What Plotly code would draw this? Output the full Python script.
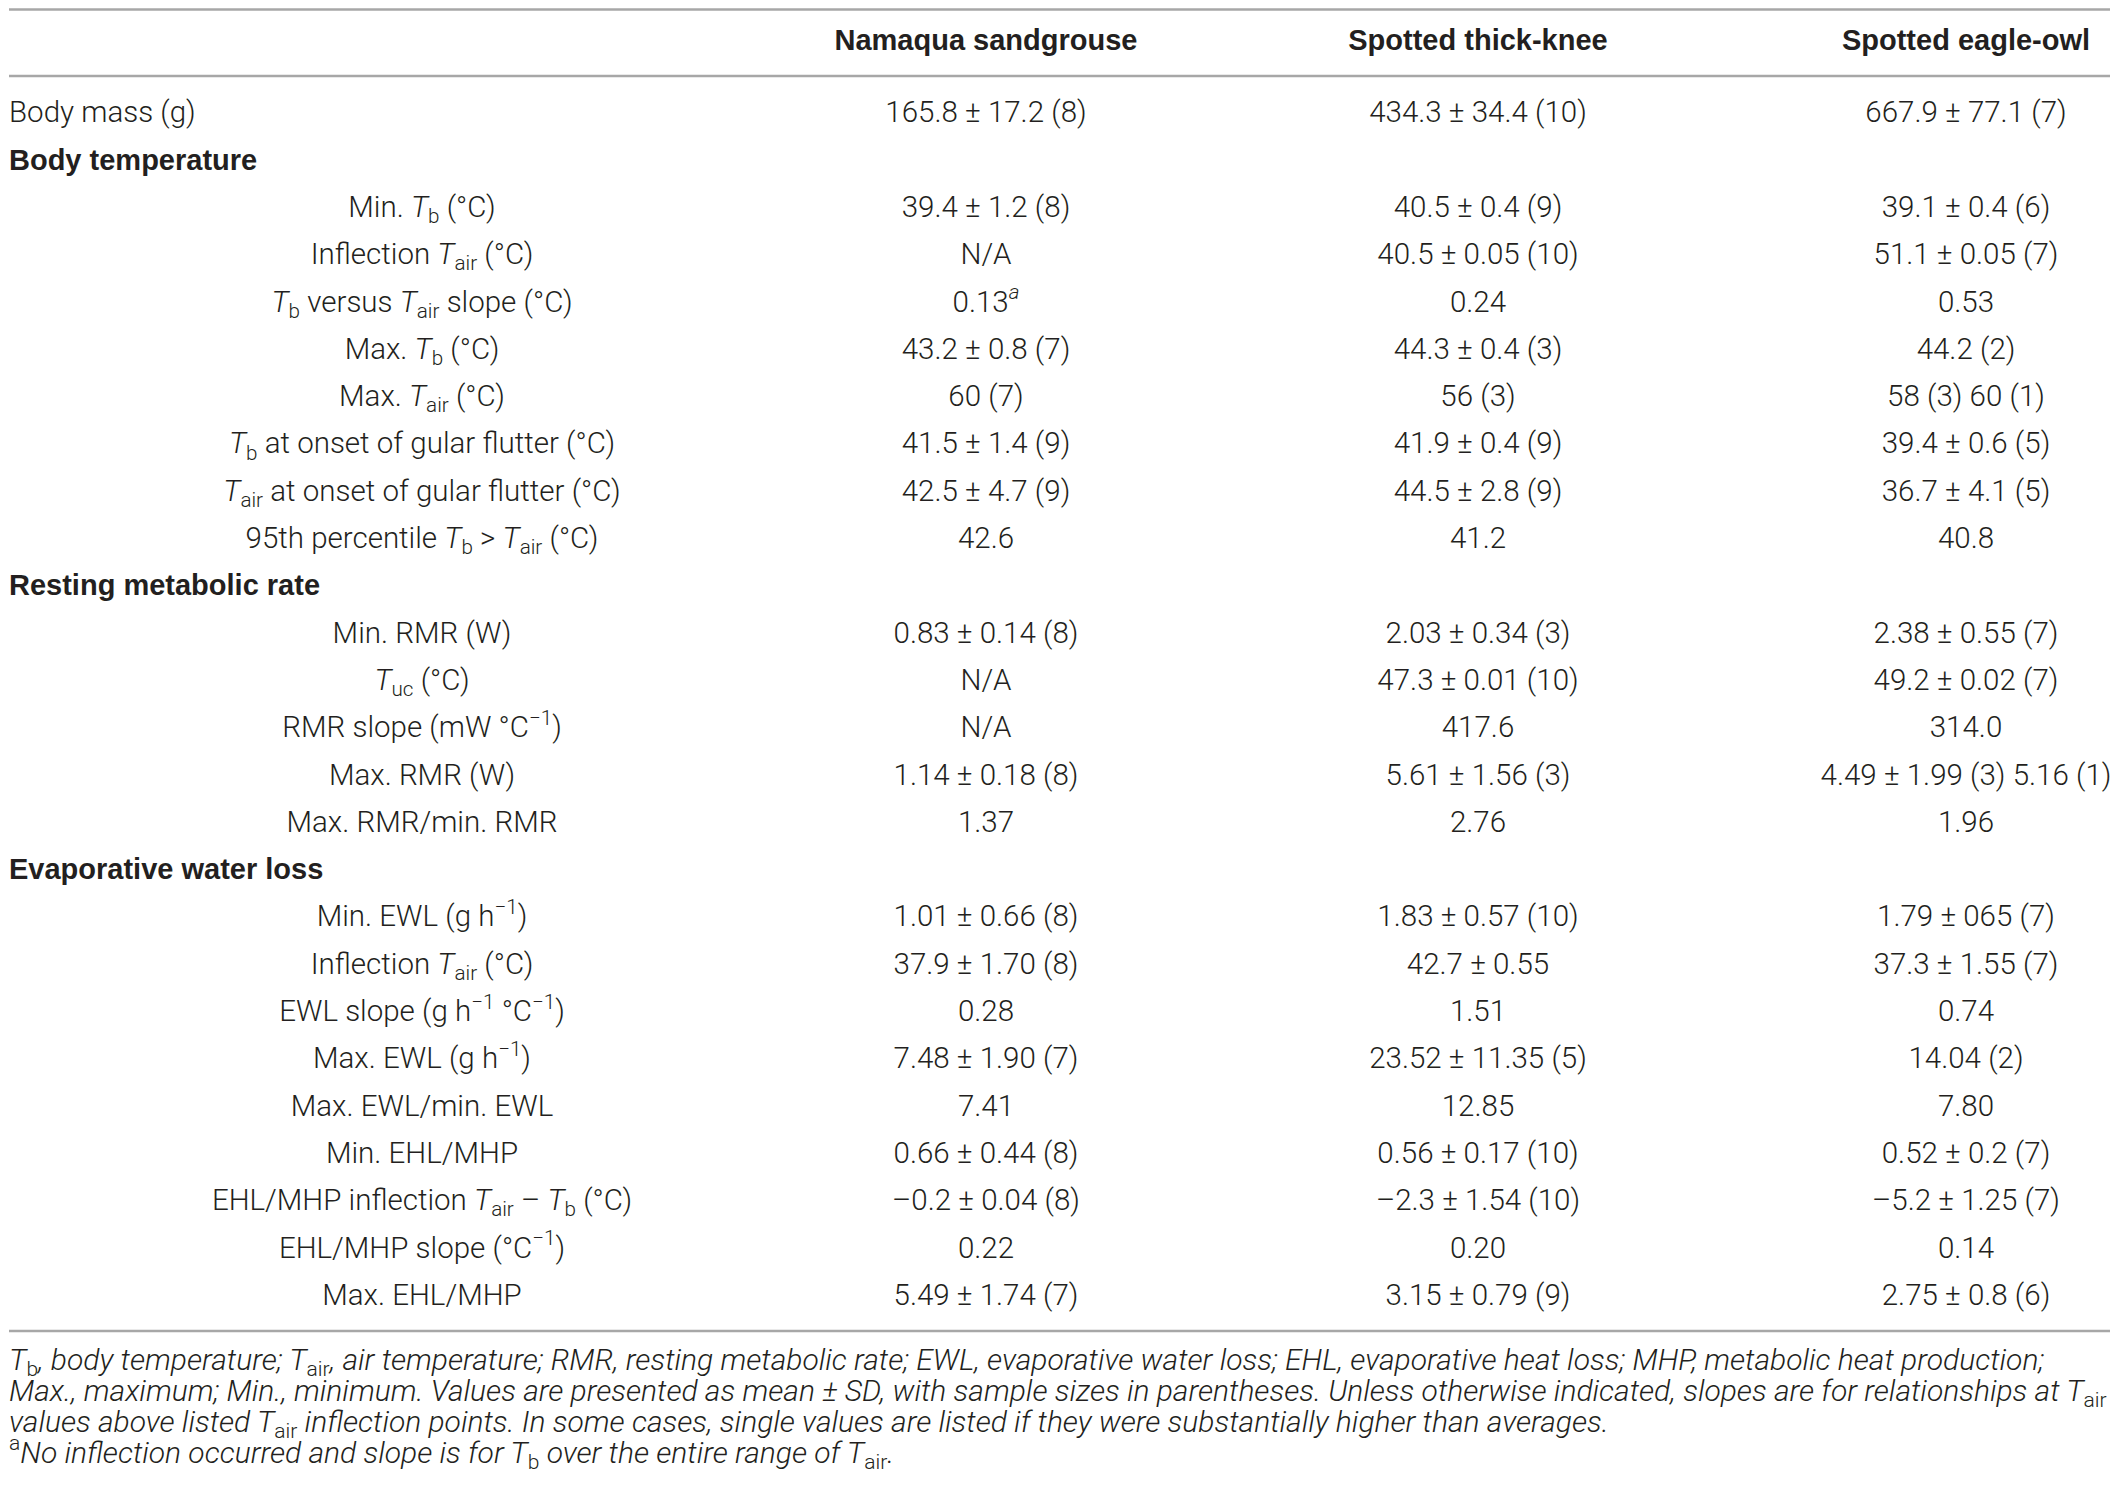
import plotly.graph_objs as go

# table content
species = ["Namaqua sandgrouse", "Spotted thick-knee", "Spotted eagle-owl"]

row_labels = [
    "Body mass (g)",
    "Body temperature",
    "Min. <i>T</i><sub>b</sub> (°C)",
    "Inflection <i>T</i><sub>air</sub> (°C)",
    "<i>T</i><sub>b</sub> versus <i>T</i><sub>air</sub> slope (°C)",
    "Max. <i>T</i><sub>b</sub> (°C)",
    "Max. <i>T</i><sub>air</sub> (°C)",
    "<i>T</i><sub>b</sub> at onset of gular flutter (°C)",
    "<i>T</i><sub>air</sub> at onset of gular flutter (°C)",
    "95th percentile <i>T</i><sub>b</sub> > <i>T</i><sub>air</sub> (°C)",
    "Resting metabolic rate",
    "Min. RMR (W)",
    "<i>T</i><sub>uc</sub> (°C)",
    "RMR slope (mW °C<sup>−1</sup>)",
    "Max. RMR (W)",
    "Max. RMR/min. RMR",
    "Evaporative water loss",
    "Min. EWL (g h<sup>−1</sup>)",
    "Inflection <i>T</i><sub>air</sub> (°C)",
    "EWL slope (g h<sup>−1</sup> °C<sup>−1</sup>)",
    "Max. EWL (g h<sup>−1</sup>)",
    "Max. EWL/min. EWL",
    "Min. EHL/MHP",
    "EHL/MHP inflection <i>T</i><sub>air</sub> – <i>T</i><sub>b</sub> (°C)",
    "EHL/MHP slope (°C<sup>−1</sup>)",
    "Max. EHL/MHP",
]

# 'flush' = left, plain; 'head' = left, bold; 'sub' = centred in first column
row_kind = ["flush", "head"] + ["sub"] * 8 + ["head"] + ["sub"] * 5 + ["head"] + ["sub"] * 9

sandgrouse = [
    "165.8 ± 17.2 (8)", "", "39.4 ± 1.2 (8)", "N/A", "0.13<sup><i>a</i></sup>",
    "43.2 ± 0.8 (7)", "60 (7)", "41.5 ± 1.4 (9)", "42.5 ± 4.7 (9)", "42.6",
    "", "0.83 ± 0.14 (8)", "N/A", "N/A", "1.14 ± 0.18 (8)", "1.37",
    "", "1.01 ± 0.66 (8)", "37.9 ± 1.70 (8)", "0.28", "7.48 ± 1.90 (7)", "7.41",
    "0.66 ± 0.44 (8)", "–0.2 ± 0.04 (8)", "0.22", "5.49 ± 1.74 (7)",
]
thick_knee = [
    "434.3 ± 34.4 (10)", "", "40.5 ± 0.4 (9)", "40.5 ± 0.05 (10)", "0.24",
    "44.3 ± 0.4 (3)", "56 (3)", "41.9 ± 0.4 (9)", "44.5 ± 2.8 (9)", "41.2",
    "", "2.03 ± 0.34 (3)", "47.3 ± 0.01 (10)", "417.6", "5.61 ± 1.56 (3)", "2.76",
    "", "1.83 ± 0.57 (10)", "42.7 ± 0.55", "1.51", "23.52 ± 11.35 (5)", "12.85",
    "0.56 ± 0.17 (10)", "–2.3 ± 1.54 (10)", "0.20", "3.15 ± 0.79 (9)",
]
eagle_owl = [
    "667.9 ± 77.1 (7)", "", "39.1 ± 0.4 (6)", "51.1 ± 0.05 (7)", "0.53",
    "44.2 (2)", "58 (3) 60 (1)", "39.4 ± 0.6 (5)", "36.7 ± 4.1 (5)", "40.8",
    "", "2.38 ± 0.55 (7)", "49.2 ± 0.02 (7)", "314.0", "4.49 ± 1.99 (3) 5.16 (1)", "1.96",
    "", "1.79 ± 065 (7)", "37.3 ± 1.55 (7)", "0.74", "14.04 (2)", "7.80",
    "0.52 ± 0.2 (7)", "–5.2 ± 1.25 (7)", "0.14", "2.75 ± 0.8 (6)",
]

footnotes = [
    "<i>T</i><sub>b</sub><i>, body temperature; </i><i>T</i><sub>air</sub><i>, air temperature; RMR, resting metabolic rate; "
    "EWL, evaporative water loss; EHL, evaporative heat loss; MHP, metabolic heat production;</i>",
    "<i>Max., maximum; Min., minimum. Values are presented as mean ± SD, with sample sizes in parentheses. "
    "Unless otherwise indicated, slopes are for relationships at </i><i>T</i><sub>air</sub>",
    "<i>values above listed </i><i>T</i><sub>air</sub><i> inflection points. In some cases, single values are listed "
    "if they were substantially higher than averages.</i>",
    "<sup>a</sup><i>No inflection occurred and slope is for </i><i>T</i><sub>b</sub><i> over the entire range of </i>"
    "<i>T</i><sub>air</sub><i>.</i>",
]

# page geometry, in window pixels (the page body keeps an 8px margin)
W, H = 2119, 1492
PAGE_MARGIN = 8
ROW0, ROW_STEP = 115, 47.3
HEADER_Y = 43
LEFT_X, SUB_X = 9, 422
COL_X = [986, 1478, 1966]
FOOT_Y0, FOOT_STEP = 1362, 31
TXT = "#231f20"
RULE = "#a7a7a7"

row_y = [ROW0 + i * ROW_STEP for i in range(len(row_labels))]

light = dict(family="Roboto", size=29.5, color=TXT, weight=300)
bold = dict(family="Liberation Sans", size=29, color=TXT, weight=700)

fig = go.Figure()

def text_trace(xs, ys, texts, font, pos="middle center"):
    fig.add_trace(go.Scatter(
        x=xs, y=ys, text=texts, mode="text", textposition=pos,
        textfont=font, hoverinfo="skip", showlegend=False, cliponaxis=False,
    ))

# first column
flush = [i for i, k in enumerate(row_kind) if k == "flush"]
heads = [i for i, k in enumerate(row_kind) if k == "head"]
subs = [i for i, k in enumerate(row_kind) if k == "sub"]
text_trace([LEFT_X] * len(flush), [row_y[i] for i in flush], [row_labels[i] for i in flush], light, "middle right")
text_trace([LEFT_X] * len(heads), [row_y[i] for i in heads], ["<b>%s</b>" % row_labels[i] for i in heads], bold, "middle right")
text_trace([SUB_X] * len(subs), [row_y[i] for i in subs], [row_labels[i] for i in subs], light)

# species columns
for cx, name, vals in zip(COL_X, species, [sandgrouse, thick_knee, eagle_owl]):
    text_trace([cx], [HEADER_Y], ["<b>%s</b>" % name], bold)
    text_trace([cx] * len(vals), row_y, vals, light)

# footnotes
foot_font = dict(family="Roboto", size=30, color=TXT, weight=300)
text_trace([LEFT_X] * len(footnotes), [FOOT_Y0 + i * FOOT_STEP for i in range(len(footnotes))],
           footnotes, foot_font, "middle right")

# horizontal rules
rules = [9.5, 76, 1331]
for ry in rules:
    fig.add_shape(type="line", xref="x", x0=LEFT_X, x1=2110, yref="y", y0=ry, y1=ry,
                  line=dict(color=RULE, width=2.5))

fig.update_layout(
    width=W - 2 * PAGE_MARGIN, height=H - 2 * PAGE_MARGIN,
    margin=dict(l=0, r=0, t=0, b=0),
    paper_bgcolor="white", plot_bgcolor="white",
    xaxis=dict(range=[PAGE_MARGIN, W - PAGE_MARGIN], visible=False, fixedrange=True),
    yaxis=dict(range=[H - PAGE_MARGIN, PAGE_MARGIN], visible=False, fixedrange=True),
)

fig.write_html("out.html")
